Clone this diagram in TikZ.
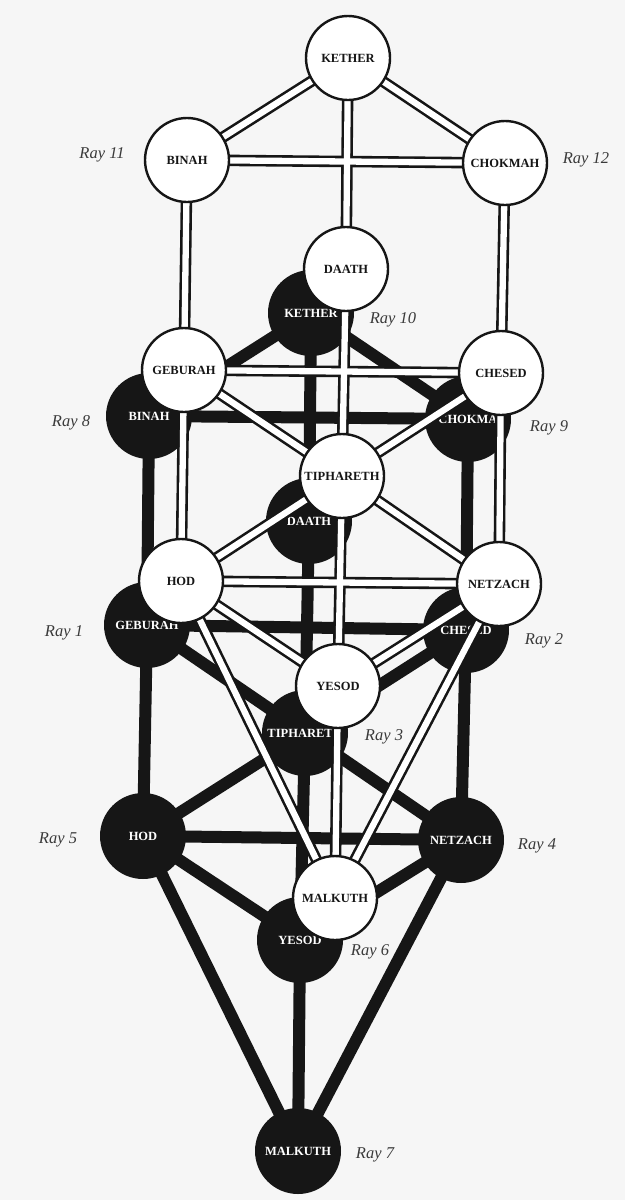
\documentclass[tikz,border=0pt]{standalone}
\usepackage{fontspec}
\setmainfont{Liberation Serif}
\definecolor{paper}{HTML}{F6F6F6}
\definecolor{ink}{HTML}{161616}
\definecolor{raygray}{HTML}{3A3A3A}
\pgfdeclarelayer{bg}
\pgfdeclarelayer{bpaths}
\pgfdeclarelayer{bnodes}
\pgfdeclarelayer{wouter}
\pgfdeclarelayer{winner}
\pgfsetlayers{bg,bpaths,bnodes,wouter,winner,main}
\begin{document}
\begin{tikzpicture}[x=1pt,y=-1pt,
  wnode/.style={circle,draw=ink,line width=2.4pt,fill=white,minimum size=84pt,inner sep=0pt,
    font=\bfseries\fontsize{12.5}{12.5}\selectfont,text=ink},
  bnode/.style={circle,fill=ink,minimum size=86pt,inner sep=0pt,
    font=\bfseries\fontsize{12.5}{12.5}\selectfont,text=white},
  bpath/.style={draw=ink,line width=12pt},
  wout/.style={draw=ink,line width=11.5pt},
  win/.style={draw=white,line width=6.3pt},
  ray/.style={font=\itshape\fontsize{16.5}{16.5}\selectfont,text=raygray,inner sep=0pt}]
\begin{pgfonlayer}{bg}
  \fill[paper] (0,0) rectangle (625,1200);
\end{pgfonlayer}
% lower (black) tree
\begin{pgfonlayer}{bnodes}
  \node[bnode] (bK)  at (311,313)  {KETHER};
  \node[bnode] (bB)  at (149,416)  {BINAH};
  \node[bnode] (bC)  at (468,419)  {CHOKMA};
  \node[bnode] (bD)  at (309,521)  {DAATH};
  \node[bnode] (bG)  at (147,625)  {GEBURAH};
  \node[bnode] (bCh) at (466,630)  {CHESED};
  \node[bnode] (bT)  at (305,733)  {TIPHARETH};
  \node[bnode] (bH)  at (143,836)  {HOD};
  \node[bnode] (bN)  at (461,840)  {NETZACH};
  \node[bnode] (bY)  at (300,940)  {YESOD};
  \node[bnode] (bM)  at (298,1151) {MALKUTH};
\end{pgfonlayer}
% upper (white) tree
\node[wnode] (wK)  at (348,58)  {KETHER};
\node[wnode] (wB)  at (187,160) {BINAH};
\node[wnode] (wC)  at (505,163) {CHOKMAH};
\node[wnode] (wD)  at (346,269) {DAATH};
\node[wnode] (wG)  at (184,370) {GEBURAH};
\node[wnode] (wCh) at (501,373) {CHESED};
\node[wnode] (wT)  at (342,476) {TIPHARETH};
\node[wnode] (wH)  at (181,581) {HOD};
\node[wnode] (wN)  at (499,584) {NETZACH};
\node[wnode] (wY)  at (338,686) {YESOD};
\node[wnode] (wM)  at (335,898) {MALKUTH};
% black paths
\begin{pgfonlayer}{bpaths}
  \foreach \a/\b in {bK/bB,bK/bC,bK/bD,bB/bC,bB/bG,bC/bCh,bD/bT,bG/bCh,bG/bT,bCh/bT,
                     bG/bH,bCh/bN,bT/bH,bT/bN,bH/bN,bT/bY,bH/bY,bN/bY,bH/bM,bN/bM,bY/bM}
    \draw[bpath] (\a.center) -- (\b.center);
\end{pgfonlayer}
% white (double) paths
\begin{pgfonlayer}{wouter}
  \foreach \a/\b in {wK/wB,wK/wC,wK/wD,wB/wC,wB/wG,wC/wCh,wD/wT,wG/wCh,wG/wT,wCh/wT,
                     wG/wH,wCh/wN,wT/wH,wT/wN,wH/wN,wT/wY,wH/wY,wN/wY,wH/wM,wN/wM,wY/wM}
    \draw[wout] (\a.center) -- (\b.center);
\end{pgfonlayer}
\begin{pgfonlayer}{winner}
  \foreach \a/\b in {wK/wB,wK/wC,wK/wD,wB/wC,wB/wG,wC/wCh,wD/wT,wG/wCh,wG/wT,wCh/wT,
                     wG/wH,wCh/wN,wT/wH,wT/wN,wH/wN,wT/wY,wH/wY,wN/wY,wH/wM,wN/wM,wY/wM}
    \draw[win] (\a.center) -- (\b.center);
\end{pgfonlayer}
% ray labels
\node[ray] (r11) at (102,155)  {Ray 11};
\node[ray] (r12) at (586,160)  {Ray 12};
\node[ray] (r10) at (393,320)  {Ray 10};
\node[ray] (r8)  at (71,423)   {Ray 8};
\node[ray] (r9)  at (549,428)  {Ray 9};
\node[ray] (r1)  at (64,633)   {Ray 1};
\node[ray] (r2)  at (544,641)  {Ray 2};
\node[ray] (r3)  at (384,737)  {Ray 3};
\node[ray] (r5)  at (58,840)   {Ray 5};
\node[ray] (r4)  at (537,846)  {Ray 4};
\node[ray] (r6)  at (370,952)  {Ray 6};
\node[ray] (r7)  at (375,1155) {Ray 7};
\end{tikzpicture}
\end{document}
